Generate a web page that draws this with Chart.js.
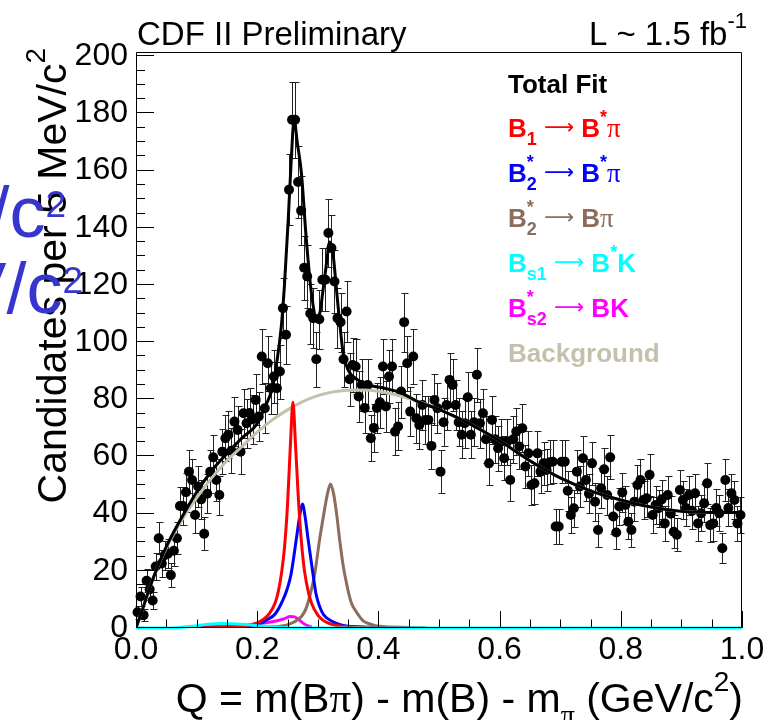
<!DOCTYPE html>
<html>
<head>
<meta charset="utf-8">
<script src="https://cdn.jsdelivr.net/npm/chart.js@4.4.1/dist/chart.umd.min.js"></script>
<style>
html,body{margin:0;padding:0;background:#ffffff;overflow:hidden;}
#chart{display:block;}
</style>
</head>
<body>
<canvas id="chart" width="780" height="720"></canvas>
<script>
// ---------------- data ----------------
const binStart = 0.0;      // GeV/c^2, low edge of first bin
const binWidth = 0.005;    // 5 MeV/c^2 bins
const candidates = [
  5.5, 11, 4.5, 16.5, 13.5, 9.6, 21.5, 31.4, 22.6, 25.5,
  26, 18.5, 27, 31.4, 42.7, 42.7, 47.5, 54.7, 51.8, 39.5,
  49.5, 45, 33, 47, 54.7, 59.7, 51.8, 46.5, 61.7, 66.4,
  67.6, 62, 72.2, 69.3, 61.7, 75.1, 71.6, 75.2, 73, 79.8,
  74, 95, 76.9, 92.6, 83.9, 88, 83.9, 89.7, 111.9, 102.6,
  153.3, 177.8, 177.8, 156, 146, 126, 123, 110, 108.4, 94,
  108, 121.8, 121.8, 138.2, 132.9, 121.2, 108.4, 107, 94, 110.7,
  87, 92, 91.5, 81, 85, 77, 85, 66.4, 70, 77,
  79, 91.5, 77.5, 88, 91.5, 68.7, 70.5, 82.7, 107, 92.6,
  75.7, 95, 73.4, 71, 78, 72.8, 72.8, 63.7, 79.8, 76.9,
  54.7, 72, 78, 86.8, 85, 78, 72, 67.6, 71.6, 80.7,
  67.6, 72, 88.6, 71.6, 75.1, 66, 57.6, 72.8, 66, 62.9,
  65.2, 59.4, 65.2, 51.8, 66, 68.7, 63.5, 69.9, 56.5, 61.1,
  50, 50.6, 61.1, 54.7, 57.6, 55.3, 58, 58.2, 35.5, 35.5,
  58.2, 58.2, 48, 39.5, 41.9, 54.7, 49.5, 59.4, 51.8, 47,
  57.6, 44.2, 34.3, 48.9, 55.5, 46.5, 59.7, 39, 33.4, 42.5,
  47.4, 43, 37.2, 34.3, 44.2, 50, 51.8, 44.8, 45.4, 53.6,
  39.5, 43, 41.9, 45, 36.6, 46.5, 40, 33.7, 32.6, 48.3,
  44.8, 42, 46.5, 41, 47.1, 36.6, 40.1, 43.6, 50.6, 36,
  36.6, 42, 40.1, 27.9, 51.8, 42, 47.1, 44.8, 36.6, 39.5
];

const bkgQ = [0, 0.01, 0.02, 0.033, 0.05, 0.075, 0.1, 0.125, 0.15, 0.175, 0.2, 0.225, 0.25, 0.275, 0.3, 0.325, 0.35, 0.375, 0.4, 0.45, 0.5, 0.55, 0.6, 0.65, 0.7, 0.75, 0.8, 0.85, 0.9, 0.95, 1.0];
const bkgY = [0, 6, 12.5, 20, 28, 37.5, 45.5, 52.5, 58.5, 63.5, 68.5, 72.8, 76.3, 79.2, 81.3, 82.6, 83.2, 83.3, 82.8, 80.3, 76.5, 71.5, 65.5, 58.5, 52.5, 48, 44.8, 42.3, 40.8, 40.4, 40.4];

const totalQ = [0, 0.01, 0.02, 0.033, 0.05, 0.075, 0.1, 0.125, 0.15, 0.175, 0.2, 0.212, 0.225, 0.235, 0.24, 0.245, 0.251, 0.256, 0.261, 0.266, 0.273, 0.281, 0.289, 0.2975, 0.303, 0.3085, 0.314, 0.3196, 0.325, 0.331, 0.336, 0.342, 0.35, 0.366, 0.383, 0.41, 0.438, 0.465, 0.5, 0.55, 0.6, 0.65, 0.7, 0.75, 0.8, 0.85, 0.9, 0.95, 1.0];
const totalY = [0, 6, 12.5, 20, 28.5, 38.5, 47.5, 55, 61, 66.5, 71.5, 77, 84, 97, 106, 120, 142, 163, 178, 170, 159, 136, 118, 109, 110, 118, 127, 135, 131, 118, 107, 96, 90.3, 86.8, 85, 83.9, 82.2, 79.2, 76.5, 71.5, 65.5, 58.5, 52.5, 48, 44.8, 42.3, 40.8, 40.4, 40.4];

const b1Q = [0.1, 0.15, 0.18, 0.2, 0.21, 0.22, 0.23, 0.235, 0.24, 0.245, 0.25, 0.255, 0.259, 0.263, 0.268, 0.273, 0.278, 0.285, 0.29, 0.3, 0.31, 0.32, 0.34, 0.38, 0.45];
const b1Y = [0, 0.3, 0.8, 1.8, 3, 5, 9, 13, 19, 28, 43, 65, 79, 65, 45, 30, 20, 12, 8.5, 4.5, 2.5, 1.5, 0.6, 0.2, 0];

const b2StarQ = [0.09, 0.15, 0.2, 0.215, 0.23, 0.2425, 0.25, 0.256, 0.2645, 0.27, 0.2745, 0.279, 0.284, 0.292, 0.297, 0.303, 0.31, 0.325, 0.34, 0.358, 0.4, 0.45];
const b2StarY = [0, 0.2, 1, 2.8, 5, 9.8, 14, 19, 31, 39, 43.4, 39, 31, 19, 12, 7.5, 4.5, 2.2, 1, 0.5, 0.1, 0];

const b2BpiQ = [0.12, 0.2, 0.248, 0.26, 0.273, 0.28, 0.289, 0.295, 0.303, 0.31, 0.316, 0.321, 0.326, 0.331, 0.336, 0.341, 0.347, 0.355, 0.364, 0.375, 0.386, 0.4, 0.45, 0.48];
const b2BpiY = [0, 0.2, 1, 2, 4, 6.5, 13, 19, 31, 40, 47, 50.4, 47, 40, 31, 23, 16, 9, 5.5, 2.5, 1.4, 0.6, 0.2, 0];

const bs1Q = [0, 0.06, 0.08, 0.1, 0.12, 0.14, 0.16, 0.18, 0.2, 0.22, 0.24, 0.26, 1.0];
const bs1Y = [0, 0, 0.3, 0.8, 1.3, 1.6, 1.5, 1.2, 0.8, 0.4, 0.2, 0, 0];

const bs2Q = [0.07, 0.1, 0.14, 0.18, 0.2, 0.22, 0.235, 0.245, 0.255, 0.262, 0.268, 0.275, 0.282, 0.29];
const bs2Y = [0.2, 0.4, 0.6, 1, 1.5, 2, 2.6, 3.3, 4, 3.9, 3, 1.8, 0.9, 0.3];

const xTickValues = [0, 0.2, 0.4, 0.6, 0.8, 1.0];
const xTickLabels = ['0.0', '0.2', '0.4', '0.6', '0.8', '1.0'];
const yTickValues = [0, 20, 40, 60, 80, 100, 120, 140, 160, 180, 200];
const yTickLabels = ['0', '20', '40', '60', '80', '100', '120', '140', '160', '180', '200'];

// text (rich segments: [text, kind])
const titleLeft = [['CDF II Preliminary', 'n']];
const titleRight = [['L ~ 1.5 fb', 'n'], ['-1', 'sup']];
const xTitle = [['Q = m(B', 'n'], ['\u03c0', 'sym'], [') - m(B) - m', 'n'], ['\u03c0', 'subsym'], [' (GeV/c', 'n'], ['2', 'sup'], [')', 'n']];
const yTitle = [['Candidates per 5 MeV/c', 'n'], ['2', 'sup']];
const strayText = [['V/c', 'n'], ['2', 'supLow']];
const legendLabels = [
  [['Total Fit', 'n']],
  [['B', 'n'], ['1', 'sub'], [' ', 'n'], ['\u27f6', 'arr'], [' ', 'n'], ['B', 'n'], ['*', 'sup'], ['\u03c0', 'sym']],
  [['B', 'n'], ['*', 'sup0'], ['2', 'sub'], [' ', 'n'], ['\u27f6', 'arr'], [' ', 'n'], ['B', 'n'], ['*', 'sup'], ['\u03c0', 'sym']],
  [['B', 'n'], ['*', 'sup0'], ['2', 'sub'], [' ', 'n'], ['\u27f6', 'arr'], [' ', 'n'], ['B', 'n'], ['\u03c0', 'sym']],
  [['B', 'n'], ['s1', 'sub'], [' ', 'n'], ['\u27f6', 'arr'], [' ', 'n'], ['B', 'n'], ['*', 'sup'], ['K', 'n']],
  [['B', 'n'], ['*', 'sup0'], ['s2', 'sub'], [' ', 'n'], ['\u27f6', 'arr'], [' ', 'n'], ['BK', 'n']],
  [['Background', 'n']]
];

// ---------------- styles ----------------
const COL = {
  total: '#000000', b1: '#ff0000', b2: '#0000ff', bpi: '#8c6d5c',
  bs1: '#00ffff', bs2: '#ff00ff', bkg: '#c4c0ab', stray: '#3636cf'
};
const legendColors = [COL.total, COL.b1, COL.b2, COL.bpi, COL.bs1, COL.bs2, COL.bkg];
const SANS = '"Liberation Sans", Arial, Helvetica, sans-serif';
const SERIF = '"Liberation Serif", "DejaVu Serif", serif';
const ARROW = '"DejaVu Sans", sans-serif';

function fontFor(kind, S, bold) {
  const b = bold ? 'bold ' : '';
  const small = Math.round(S * 0.68);
  switch (kind) {
    case 'sub': return [b + small + 'px ' + SANS, 0.3 * S];
    case 'sup': case 'sup0': return [b + small + 'px ' + SANS, -0.52 * S];
    case 'supLow': return [b + Math.round(S * 0.52) + 'px ' + SANS, -0.28 * S];
    case 'sym': return [Math.round(S * 1.05) + 'px ' + SERIF, 0];
    case 'subsym': return [small + 'px ' + SERIF, 0.3 * S];
    case 'arr': return [Math.round(S * 0.8) + 'px ' + ARROW, -0.12 * S];
    default: return [b + S + 'px ' + SANS, 0];
  }
}
function richWidth(ctx, segs, S, bold) {
  let w = 0;
  for (const [t, k] of segs) {
    if (k === 'sup0') continue;
    ctx.font = fontFor(k, S, bold)[0];
    w += ctx.measureText(t).width;
  }
  return w;
}
function drawRich(ctx, segs, x, y, S, bold, color, align) {
  ctx.fillStyle = color;
  ctx.textAlign = 'left';
  ctx.textBaseline = 'alphabetic';
  let cx = align === 'right' ? x - richWidth(ctx, segs, S, bold) : x;
  for (const [t, k] of segs) {
    const [f, dy] = fontFor(k, S, bold);
    ctx.font = f;
    ctx.fillText(t, cx, y + dy);
    if (k !== 'sup0') cx += ctx.measureText(t).width;
  }
}

const rootPlugin = {
  id: 'rootStyle',
  beforeDatasetsDraw(chart) {
    const ctx = chart.ctx, xs = chart.scales.x, ys = chart.scales.y;
    ctx.save();
    ctx.strokeStyle = '#222222';
    ctx.lineWidth = 1;
    ctx.beginPath();
    candidates.forEach((v, i) => {
      const q = binStart + (i + 0.5) * binWidth;
      const e = Math.sqrt(v);
      const px = Math.round(xs.getPixelForValue(q)) + 0.5;
      const yt = Math.round(ys.getPixelForValue(v + e)) + 0.5;
      const yb = Math.round(ys.getPixelForValue(Math.max(v - e, 0))) + 0.5;
      ctx.moveTo(px, yt); ctx.lineTo(px, yb);
      ctx.moveTo(px - 3, yt); ctx.lineTo(px + 4, yt);
      ctx.moveTo(px - 3, yb); ctx.lineTo(px + 4, yb);
    });
    ctx.stroke();
    ctx.restore();
  },
  afterDatasetsDraw(chart) {
    const ctx = chart.ctx, xs = chart.scales.x, ys = chart.scales.y;
    const a = chart.chartArea;
    ctx.save();
    ctx.strokeStyle = '#000';
    ctx.lineWidth = 1;
    ctx.beginPath();
    ctx.rect(Math.round(a.left) + 0.5, Math.round(a.top) + 0.5, Math.round(a.right - a.left) - 1, Math.round(a.bottom - a.top) - 1);
    for (let k = 0; k <= 40; k++) {
      const v = 5 * k;
      const py = Math.round(ys.getPixelForValue(v)) - 0.5;
      const len = (k % 4 === 0) ? 18 : 9;
      ctx.moveTo(a.left, py); ctx.lineTo(a.left + len, py);
    }
    for (let k = 0; k <= 20; k++) {
      const v = 0.05 * k;
      const px = Math.round(xs.getPixelForValue(v)) + 0.5;
      const len = (k % 4 === 0) ? 17 : 8.5;
      ctx.moveTo(px, a.bottom); ctx.lineTo(px, a.bottom - len);
    }
    ctx.stroke();
    ctx.restore();
  },
  afterDraw(chart) {
    const ctx = chart.ctx;
    ctx.save();
    drawRich(ctx, titleLeft, 137, 45, 33, false, '#000', 'left');
    drawRich(ctx, titleRight, 747, 45, 33, false, '#000', 'right');
    const baselines = [93, 137, 182, 227, 272, 317, 362];
    legendLabels.forEach((segs, i) => drawRich(ctx, segs, 508, baselines[i], 26, true, legendColors[i], 'left'));
    drawRich(ctx, xTitle, 743, 712, 41, false, '#000', 'right');
    ctx.save();
    ctx.translate(66, 48);
    ctx.rotate(-Math.PI / 2);
    drawRich(ctx, yTitle, 0, 0, 41, false, '#000', 'right');
    ctx.restore();
    // stray overlapping text present in the reference
    drawRich(ctx, strayText, 66, 237, 72, false, COL.stray, 'right');
    drawRich(ctx, strayText, 83, 313, 72, false, COL.stray, 'right');
    ctx.restore();
  }
};

function pts(qs, ys) { return qs.map((q, i) => ({ x: q, y: ys[i] })); }
function curve(label, qs, ys, color, order, extra) {
  return Object.assign({
    label, data: pts(qs, ys), showLine: true, pointRadius: 0, borderColor: color,
    backgroundColor: color, borderWidth: 3, cubicInterpolationMode: 'monotone', fill: false, order
  }, extra || {});
}

const dataPoints = candidates.map((v, i) => ({ x: binStart + (i + 0.5) * binWidth, y: v }));

new Chart(document.getElementById('chart'), {
  type: 'scatter',
  data: {
    datasets: [
      curve('Total Fit', totalQ, totalY, COL.total, 1),
      curve('Bs1', bs1Q, bs1Y, COL.bs1, 2, { clip: false }),
      curve('B1', b1Q, b1Y, COL.b1, 3),
      curve('B2*', b2StarQ, b2StarY, COL.b2, 4),
      curve('B2* Bpi', b2BpiQ, b2BpiY, COL.bpi, 5),
      curve('Bs2*', bs2Q, bs2Y, COL.bs2, 6),
      curve('Background', bkgQ, bkgY, COL.bkg, 7),
      { label: 'Data', data: dataPoints, showLine: false, pointRadius: 5, pointBackgroundColor: '#000',
        pointBorderWidth: 0, pointBorderColor: '#000', clip: false, order: 20 }
    ]
  },
  options: {
    responsive: false, animation: false, events: [],
    layout: { padding: { left: 0, right: 38, top: 52, bottom: 0 } },
    plugins: { legend: { display: false }, tooltip: { enabled: false } },
    scales: {
      x: {
        type: 'linear', min: 0, max: 1.0,
        grid: { display: false, drawTicks: false }, border: { display: false },
        afterBuildTicks: s => { s.ticks = xTickValues.map(v => ({ value: v })); },
        afterFit: s => { s.height = 92; },
        ticks: { font: { family: SANS, size: 32 }, color: '#000', padding: 3, maxRotation: 0, autoSkip: false,
                 callback: (v, i) => xTickLabels[i] }
      },
      y: {
        type: 'linear', min: 0, max: 201.5,
        grid: { display: false, drawTicks: false }, border: { display: false },
        afterBuildTicks: s => { s.ticks = yTickValues.map(v => ({ value: v })); },
        afterFit: s => { s.width = 136; },
        ticks: { font: { family: SANS, size: 32 }, color: '#000', padding: 8, autoSkip: false,
                 callback: (v, i) => yTickLabels[i] }
      }
    }
  },
  plugins: [rootPlugin]
});
</script>
</body>
</html>
